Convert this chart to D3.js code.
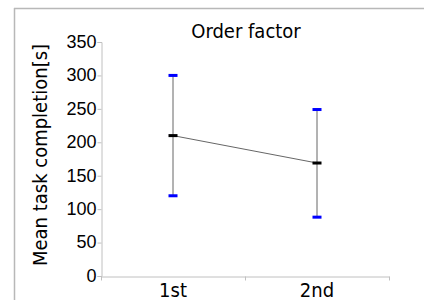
<!DOCTYPE html>
<meta charset="utf-8">
<style>
body { margin: 0; background: #fff; }
svg text { fill: #000; }
.title, .cat, .ylab { font-family: "DejaVu Sans", sans-serif; font-stretch: condensed; }
.ytick { font-family: "Liberation Sans", Arial, sans-serif; }
</style>
<body>
<script src="https://cdn.jsdelivr.net/npm/d3@7"></script>
<script>

var categories = ["1st", "2nd"],
    means = [210, 169],
    upper = [300, 249],
    lower = [120, 88],
    yTicks = [0, 50, 100, 150, 200, 250, 300, 350];

var width = 425,
    height = 300,
    mLeft = 101, mRight = 389,
    mTop = 42, mBottom = 276;

var svg = d3.select("body").append("svg")
    .attr("width", width)
    .attr("height", height);

// outer frame (only top and left visible)
svg.append("line").attr("x1", 14.5).attr("x2", 14.5).attr("y1", 8).attr("y2", height)
    .attr("stroke", "#b8b8b8").attr("stroke-width", 1.5);
svg.append("line").attr("x1", 14).attr("x2", 424).attr("y1", 8.5).attr("y2", 8.5)
    .attr("stroke", "#b8b8b8").attr("stroke-width", 1.5);

var x = d3.scaleBand().domain(categories).range([mLeft, mRight]);
var y = d3.scaleLinear().domain([0, 350]).range([mBottom, mTop]);

// y axis
var ya = svg.append("g").attr("transform", "translate(" + (mLeft + 0.5) + ",0)")
    .call(d3.axisLeft(y).tickValues(yTicks).tickSize(4).tickPadding(1));
ya.attr("font-family", null).attr("font-size", null);
ya.select(".domain").attr("stroke", "#c0c0c0");
ya.selectAll(".tick line").attr("stroke", "#c0c0c0");
ya.selectAll("text").attr("class", "ytick").attr("font-size", 18).attr("fill", "#000")
    .attr("dy", "0.3em");

// x axis
var xa = svg.append("g").attr("transform", "translate(0," + (mBottom + 0.5) + ")")
    .call(d3.axisBottom(x).tickSize(0).tickPadding(6));
xa.attr("font-family", null).attr("font-size", null);
xa.select(".domain").attr("stroke", "#c0c0c0");
xa.selectAll("text").attr("class", "cat").attr("font-size", 20).attr("fill", "#000");
// tick marks at band boundaries
xa.selectAll(".bt").data([mLeft, (mLeft + mRight) / 2, mRight]).enter().append("line")
    .attr("x1", function(d) { return d + 0.5; }).attr("x2", function(d) { return d + 0.5; })
    .attr("y1", 0).attr("y2", 4).attr("stroke", "#c0c0c0");

var cx = function(i) { return x(categories[i]) + x.bandwidth() / 2; };

// error bars
categories.forEach(function(c, i) {
  svg.append("line")
      .attr("x1", cx(i)).attr("x2", cx(i))
      .attr("y1", y(upper[i])).attr("y2", y(lower[i]))
      .attr("stroke", "#666").attr("stroke-width", 1);
});

// line between means
svg.append("path")
    .datum(means)
    .attr("fill", "none")
    .attr("stroke", "#666")
    .attr("stroke-width", 1)
    .attr("d", d3.line().x(function(d, i) { return cx(i); }).y(function(d) { return y(d); }));

// caps and mean markers
function marker(vals, color) {
  svg.selectAll(null).data(vals).enter().append("rect")
      .attr("x", function(d, i) { return cx(i) - 4.5; })
      .attr("y", function(d) { return y(d) - 1.5; })
      .attr("width", 9).attr("height", 3)
      .attr("fill", color);
}
marker(upper, "#0000ff");
marker(lower, "#0000ff");
marker(means, "#000");

svg.append("text").attr("class", "title")
    .attr("x", 246).attr("y", 38)
    .attr("text-anchor", "middle")
    .attr("font-size", 20)
    .text("Order factor");

svg.append("text").attr("class", "ylab")
    .attr("transform", "translate(47," + 155 + ")rotate(-90)")
    .attr("text-anchor", "middle")
    .attr("font-size", 20)
    .text("Mean task completion[s]");

</script>
</body>
